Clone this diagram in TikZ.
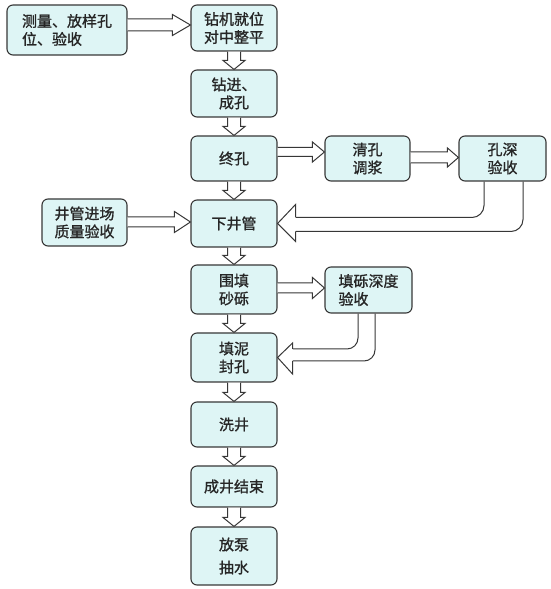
\documentclass[tikz,border=0pt]{standalone}
\usepackage{fontspec}
\newfontfamily\cjk[FakeBold=1.2]{Noto Sans CJK SC}
\usetikzlibrary{calc}
\definecolor{boxfill}{RGB}{222,245,245}
\definecolor{edgecol}{RGB}{55,55,55}
\tikzset{
  box/.style={draw=edgecol, line width=1.1pt, fill=boxfill, rounded corners=6pt,
    minimum width=86pt, align=center, inner sep=2pt, text=black!85,
    font=\cjk\fontsize{15}{18}\selectfont},
  arr/.style={draw=edgecol, line width=1pt, fill=white, line join=miter},
  curv/.style={draw=edgecol, line width=1pt, rounded corners=12pt},
}
% horizontal block arrow: src, dst, dy, shaft half width, head half width, head length
\newcommand\harr[6]{%
  \draw[arr] let \p1=(#1.east), \p2=(#2.west), \p3=(#2.center) in
   (\x1,\y3+#3pt+#4pt) -- (\x2-#6pt,\y3+#3pt+#4pt) -- (\x2-#6pt,\y3+#3pt+#5pt)
   -- (\x2,\y3+#3pt) -- (\x2-#6pt,\y3+#3pt-#5pt) -- (\x2-#6pt,\y3+#3pt-#4pt)
   -- (\x1,\y3+#3pt-#4pt);}
% vertical block arrow
\newcommand\varr[2]{%
  \draw[arr] let \p1=(#1.south), \p2=(#2.north) in
   (\x2-6.5pt,\y1) -- (\x2-6.5pt,\y2+9pt) -- (\x2-11pt,\y2+9pt) -- (\x2,\y2)
   -- (\x2+11pt,\y2+9pt) -- (\x2+6.5pt,\y2+9pt) -- (\x2+6.5pt,\y1);}
\begin{document}
\begin{tikzpicture}[x=1pt,y=1pt]
\useasboundingbox (0,0) rectangle (550,589);
\node[box, minimum width=120pt, minimum height=50pt, align=left] (A) at (67,559) {测量、放样孔\\位、验收};
\node[box, minimum height=46pt] (B) at (234,561) {钻机就位\\对中整平};
\node[box, minimum height=47pt] (C) at (234,495.5) {钻进、\\成孔};
\node[box, minimum height=45pt] (D) at (234,430.5) {终孔};
\node[box, minimum width=85pt, minimum height=45pt] (E) at (367.5,430.5) {清孔\\调浆};
\node[box, minimum width=87pt, minimum height=45pt] (F) at (502.5,430.5) {孔深\\验收};
\node[box, minimum height=47pt] (G) at (234,365.5) {下井管};
\node[box, minimum width=85pt, minimum height=47pt] (H) at (84.5,366.5) {井管进场\\质量验收};
\node[box, minimum height=49pt] (I) at (234,299.5) {围填\\砂砾};
\node[box, minimum width=87pt, minimum height=46pt, align=left] (J) at (368.5,299) {填砾深度\\验收};
\node[box, minimum height=49pt] (K) at (234,231.5) {填泥\\封孔};
\node[box, minimum height=45pt] (L) at (234,164.5) {洗井};
\node[box, minimum height=41pt] (M) at (234,102.5) {成井结束};
\node[box, minimum height=58pt] (N) at (234,33) {放泵\\[5pt]抽水};
% horizontal arrows
\harr{A}{B}{3}{6}{10.5}{18}
\harr{H}{G}{1.5}{5}{10.5}{16}
\harr{D}{E}{6.5}{4.5}{10}{12}
\harr{E}{F}{1}{5.5}{9.5}{11}
\harr{I}{J}{2}{5}{10.5}{12}
% vertical arrows
\varr{B}{C}
\varr{C}{D}
\varr{D}{G}
\varr{G}{I}
\varr{I}{K}
\varr{K}{L}
\varr{L}{M}
\varr{M}{N}
% curved return arrows
\draw[curv] let \p1=(F.south), \p2=(G.east) in
  (\x1-18.5pt,\y1) -- (\x1-18.5pt,\y2+6pt) -- (\x2+18pt,\y2+6pt);
\draw[curv] let \p1=(F.south), \p2=(G.east) in
  (\x1+20.5pt,\y1) -- (\x1+20.5pt,\y2-8pt) -- (\x2+18pt,\y2-8pt);
\draw[arr] let \p2=(G.east) in
  (\x2+18pt,\y2+6pt) -- (\x2+18pt,\y2+19pt) -- (\x2,\y2) -- (\x2+18pt,\y2-18pt) -- (\x2+18pt,\y2-8pt);
\draw[curv, rounded corners=11pt] let \p1=(J.south), \p2=(K.east) in
  (\x1-10.5pt,\y1) -- (\x1-10.5pt,\y2+8.5pt) -- (\x2+15pt,\y2+8.5pt);
\draw[curv, rounded corners=11pt] let \p1=(J.south), \p2=(K.east) in
  (\x1+6.5pt,\y1) -- (\x1+6.5pt,\y2-3.5pt) -- (\x2+15pt,\y2-3.5pt);
\draw[arr] let \p2=(K.east) in
  (\x2+15pt,\y2+8.5pt) -- (\x2+15pt,\y2+14.5pt) -- (\x2,\y2) -- (\x2+15pt,\y2-16.5pt) -- (\x2+15pt,\y2-3.5pt);
\end{tikzpicture}
\end{document}
